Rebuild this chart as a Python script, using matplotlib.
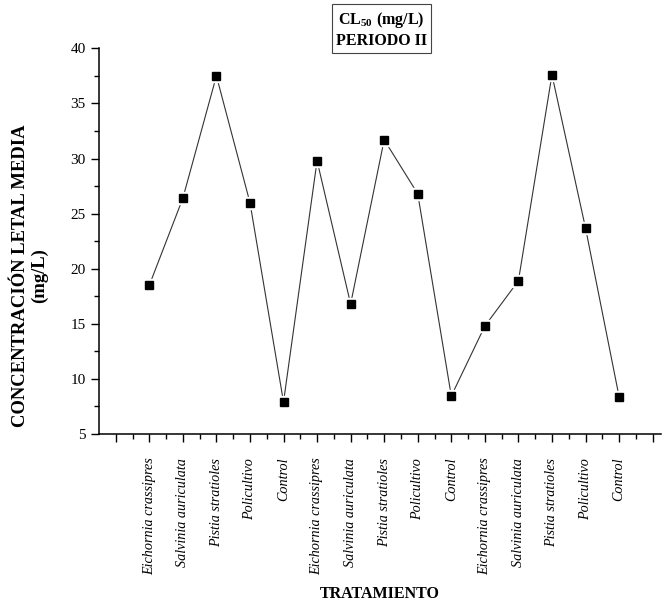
import numpy as np
import matplotlib
matplotlib.use("Agg")
import matplotlib.pyplot as plt

plt.rcParams['font.family'] = ['Liberation Serif', 'DejaVu Serif']
plt.rcParams['mathtext.fontset'] = 'custom'
plt.rcParams['mathtext.rm'] = 'Liberation Serif'
plt.rcParams['mathtext.bf'] = 'Liberation Serif:bold'

especies = ['Eichornia crassipres', 'Salvinia auriculata', 'Pistia stratioles',
            'Policultivo', 'Control']
tratamientos = especies * 3
cl50 = [18.5, 26.4, 37.5, 26.0, 7.9,
        29.8, 16.8, 31.7, 26.8, 8.45,
        14.8, 18.9, 37.6, 23.7, 8.4]

x = np.arange(1, len(tratamientos) + 1)

fig = plt.figure(figsize=(6.62, 6.05), dpi=100)
ax = fig.add_axes([0.1495, 0.2826, 0.849, 0.6375])

# line with small gaps round the markers (white squares underneath)
ax.plot(x, cl50, color='#333333', lw=0.8, zorder=2)
ax.plot(x, cl50, ls='none', marker='s', ms=8.5, mfc='white', mec='white', zorder=3)
ax.plot(x, cl50, ls='none', marker='s', ms=5.2, mfc='black', mec='black', zorder=4)

ax.set_xlim(-0.5, 16.25)
ax.set_ylim(5, 40)

ax.set_xticks(np.arange(0, 17))
ax.set_xticklabels([''] + tratamientos + [''], rotation=90, style='italic', fontsize=10.2)
ax.set_xticks(np.arange(0.5, 16.5, 1), minor=True)
ax.set_yticks(np.arange(5, 41, 5))
ax.set_yticks(np.arange(7.5, 40, 5), minor=True)
ax.tick_params(axis='y', labelsize=11)
ax.tick_params(axis='x', which='major', pad=11)

ax.tick_params(which='major', direction='out', length=6, width=1, color='black')
ax.tick_params(which='minor', direction='out', length=3.5, width=1, color='black')

for side in ['top', 'right']:
    ax.spines[side].set_visible(False)
for side in ['left', 'bottom']:
    ax.spines[side].set_linewidth(1.1)

ax.set_xlabel('TRATAMIENTO', fontsize=11.5, fontweight='bold', labelpad=8)
fig.text(0.045, 0.545, 'CONCENTRACIÓN LETAL MEDIA\n(mg/L)', rotation=90,
         ha='center', va='center', fontsize=13.4, fontweight='bold',
         multialignment='center', linespacing=1.15)

fig.text(0.5766, 0.951, 'CL$_{\\mathbf{50}}$ (mg/L)\nPERIODO II', ha='center', va='center',
         fontsize=11.5, fontweight='bold', multialignment='center', linespacing=1.3,
         bbox=dict(boxstyle='square,pad=0.25', fc='white', ec='#444444', lw=0.8))

fig.savefig('out.png', dpi=100)
